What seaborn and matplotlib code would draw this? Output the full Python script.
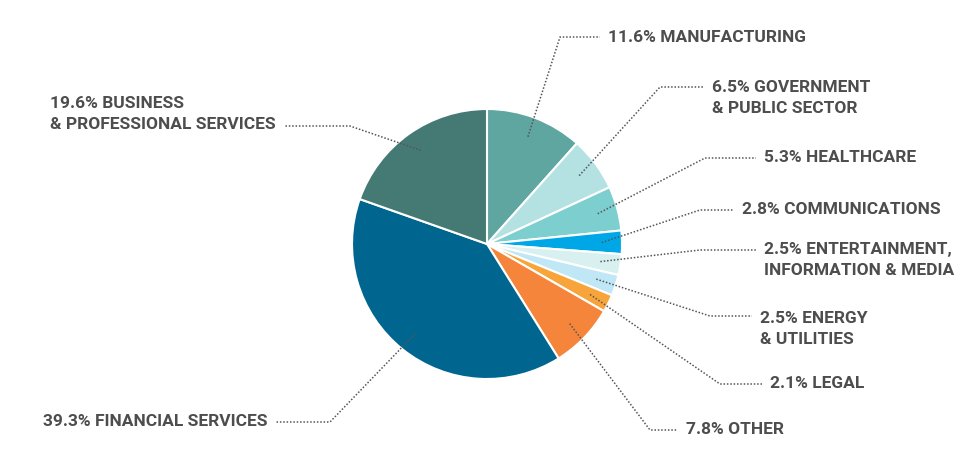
import numpy as np
import matplotlib.pyplot as plt
import seaborn as sns

sns.set_theme(style="white")
plt.rcParams['font.family'] = ['Roboto', 'DejaVu Sans']

sectors = ["MANUFACTURING", "GOVERNMENT\n& PUBLIC SECTOR", "HEALTHCARE", "COMMUNICATIONS",
           "ENTERTAINMENT,\nINFORMATION & MEDIA", "ENERGY\n& UTILITIES", "LEGAL", "OTHER",
           "FINANCIAL SERVICES", "BUSINESS\n& PROFESSIONAL SERVICES"]
shares = [11.6, 6.5, 5.3, 2.8, 2.5, 2.5, 2.1, 7.8, 39.3, 19.6]
colors = ["#5fa5a0", "#b4e1e1", "#7ccfce", "#00a7e7", "#d8f1f0", "#bfe7f6",
          "#f7a43a", "#f6853c", "#00668f", "#457a74"]

# label layout in pixel coordinates (elbow x, elbow y, text x, text y, alignment)
layout = [
    (560, 37, 608, 37, "left"),
    (660, 87, 712, 98, "left"),
    (705, 158, 764, 158, "left"),
    (700, 210, 742, 210, "left"),
    (700, 250, 764, 260, "left"),
    (710, 316, 760, 329, "left"),
    (720, 384, 770, 384, "left"),
    (650, 430, 686, 430, "left"),
    (330, 422, 268, 422, "right"),
    (350, 126, 276, 114, "right"),
]

H = 466
fig = plt.figure(figsize=(9.79, 4.66), dpi=100)
ax = fig.add_axes([0, 0, 1, 1])
ax.set_xlim(0, 979)
ax.set_ylim(0, H)
ax.set_aspect("equal")
ax.axis("off")

cx, cy, r = 487, H - 244, 135
wedges, _ = ax.pie(shares, colors=colors, startangle=90, counterclock=False,
                   center=(cx, cy), radius=r, frame=True,
                   wedgeprops=dict(edgecolor="white", linewidth=1.5))
ax.set_xlim(0, 979)
ax.set_ylim(0, H)
ax.axis("off")

for w, name, pct, (ex, ey, tx, ty, ha) in zip(wedges, sectors, shares, layout):
    ang = np.deg2rad((w.theta1 + w.theta2) / 2)
    sx = cx + 0.85 * r * np.cos(ang)
    sy = cy + 0.85 * r * np.sin(ang)
    endx = tx - 8 if ha == "left" else tx + 8
    ax.plot([sx, ex, endx], [sy, H - ey, H - ey], ls=(0, (1, 1.2)), color="#555555", lw=1.1)
    txt = f"{pct}% {name}"
    ax.text(tx, H - ty, txt, ha=ha if ha == "left" else "left", va="center",
            fontsize=12.5, fontweight="bold", color="#4d4d4d", linespacing=1.55,
            multialignment="left",
            transform=ax.transData) if ha == "left" else \
        ax.text(tx, H - ty, txt, ha="right", va="center", fontsize=12.5,
                fontweight="bold", color="#4d4d4d", linespacing=1.55, multialignment="left")

fig.savefig("out.png", dpi=100, facecolor="white")
